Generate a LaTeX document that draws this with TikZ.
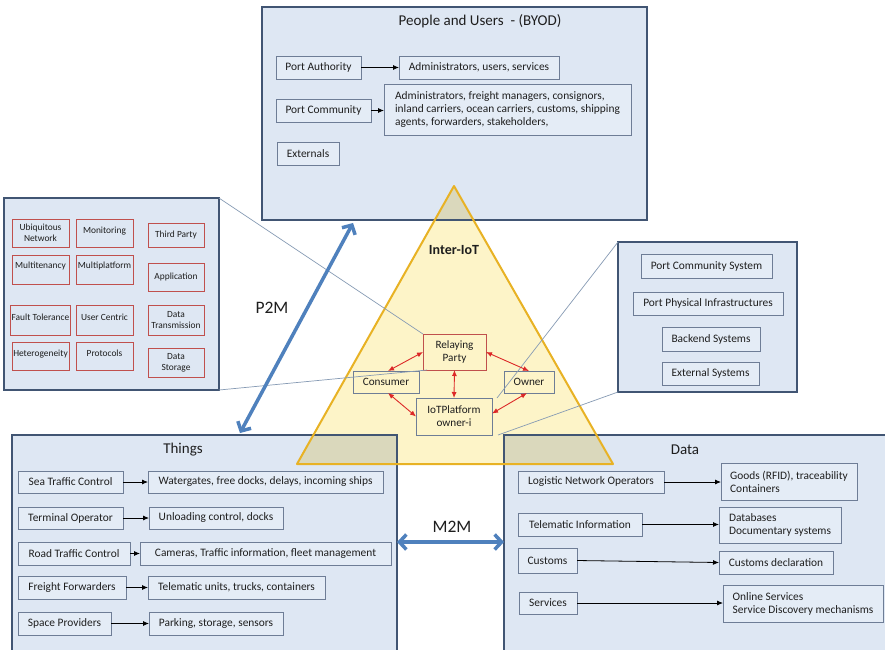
\documentclass[tikz,border=0pt]{standalone}
\usepackage{fontspec}
\setmainfont{Carlito}
\usetikzlibrary{arrows.meta,calc}
\definecolor{boxfill}{RGB}{222,231,243}
\definecolor{boxline}{RGB}{65,85,115}
\definecolor{inline}{RGB}{110,125,150}
\definecolor{infill}{RGB}{228,236,246}
\definecolor{redline}{RGB}{192,80,77}
\definecolor{tri}{RGB}{253,244,200}
\definecolor{trit}{RGB}{218,216,188}
\definecolor{triline}{RGB}{232,178,36}
\definecolor{callout}{RGB}{135,155,180}
\definecolor{bluearr}{RGB}{79,129,189}
\definecolor{redarr}{RGB}{220,40,40}
\definecolor{txt}{RGB}{30,30,30}
\tikzset{
  bigbox/.style={draw=boxline, line width=1.8pt, fill=boxfill, inner sep=0pt, outer sep=0pt},
  ibox/.style={draw=inline, line width=0.8pt, fill=infill, inner sep=2pt, outer sep=0pt, align=center, font=\fontsize{11.4}{13}\selectfont},
  iboxl/.style={ibox, align=left},
  rbox/.style={draw=redline, line width=0.9pt, inner sep=1pt, outer sep=0pt, align=center, font=\fontsize{9.4}{11}\selectfont},
  tbox/.style={draw=inline, line width=0.8pt, inner sep=1pt, outer sep=0pt, align=center, font=\fontsize{11.2}{13}\selectfont},
  arr/.style={-{Latex[length=6pt,width=5pt]}, line width=0.8pt, black},
  rarr/.style={{Latex[length=6pt,width=5pt]}-{Latex[length=6pt,width=5pt]}, line width=0.9pt, redarr},
  barr/.style={{Straight Barb[length=7pt,width=15pt]}-{Straight Barb[length=7pt,width=15pt]}, line width=3.5pt, bluearr},
  callout/.style={draw=callout, line width=0.7pt},
  title/.style={font=\fontsize{15}{17}\selectfont},
  biglabel/.style={font=\fontsize{17.5}{20}\selectfont}
}
\begin{document}
\begin{tikzpicture}[x=1pt, y=-1pt, text=txt]
\useasboundingbox (0,0) rectangle (885,649);
\fill[white] (0,0) rectangle (885,649);

% big boxes
\node[bigbox, minimum width=385pt, minimum height=213pt] (ub) at (454.5,113.5) {};
\node[bigbox, minimum width=215pt, minimum height=192pt] (lb) at (111.5,294) {};
\node[bigbox, minimum width=179pt, minimum height=150pt] (rb) at (707.5,317) {};
\node[bigbox, minimum width=385pt, minimum height=220pt] (tb) at (204.5,545) {};
\node[bigbox, minimum width=383pt, minimum height=220pt] (db) at (695.5,545) {};

% triangle
\coordinate (ta) at (454,186);
\coordinate (tl) at (297,464);
\coordinate (tr) at (613,464);
\fill[tri] (ta) -- (tl) -- (tr) -- cycle;
\begin{scope}
  \clip (ta) -- (tl) -- (tr) -- cycle;
  \fill[trit] (ub.south west) rectangle (ub.north east);
  \fill[trit] (tb.south west) rectangle (tb.north east);
  \fill[trit] (db.south west) rectangle (db.north east);
  \draw[boxline, line width=1.8pt] (ub.south west) rectangle (ub.north east);
  \draw[boxline, line width=1.8pt] (tb.south west) rectangle (tb.north east);
  \draw[boxline, line width=1.8pt] (db.south west) rectangle (db.north east);
\end{scope}
\draw[triline, line width=2pt, line join=round] (ta) -- (tl) -- (tr) -- cycle;

% People and users
\node[title] (ubt) at (480,21) {People and Users\ \ - (BYOD)};
\node[ibox, minimum width=85pt, minimum height=23pt] (pa) at (318.5,67.5) {Port Authority};
\node[ibox, minimum width=160pt, minimum height=23pt] (pas) at (479,67.5) {Administrators, users, services};
\node[ibox, minimum width=95pt, minimum height=23pt] (pc) at (323.5,110.5) {Port Community};
\node[iboxl, minimum width=247pt, minimum height=51pt] (pcs) at (507.5,109.5) {Administrators, freight managers, consignors,\\inland carriers, ocean carriers, customs, shipping\\agents, forwarders, stakeholders,};
\node[ibox, minimum width=62pt, minimum height=23pt] (ext) at (308,153.5) {Externals};
\draw[arr] (pa) -- (pas);
\draw[arr] (pc.east) -- (pc.east -| pcs.west);

% left box
\node[rbox, minimum width=57pt, minimum height=28pt] (r11) at (40.5,233) {Ubiquitous\\Network};
\node[rbox, minimum width=57pt, minimum height=28pt, text depth=5pt] (r12) at (104.5,233) {Monitoring};
\node[rbox, minimum width=56pt, minimum height=24pt] (r13) at (176,235) {Third Party};
\node[rbox, minimum width=57pt, minimum height=29pt, text depth=9pt] (r21) at (40.5,269.5) {Multitenancy};
\node[rbox, minimum width=57pt, minimum height=29pt, text depth=9pt] (r22) at (104.5,269.5) {Multiplatform};
\node[rbox, minimum width=56pt, minimum height=28pt] (r23) at (176,277) {Application};
\node[rbox, minimum width=57pt, minimum height=30pt, text depth=5pt] (r31) at (40.5,320) {Fault Tolerance};
\node[rbox, minimum width=57pt, minimum height=30pt, text depth=5pt] (r32) at (104.5,320) {User Centric};
\node[rbox, minimum width=56pt, minimum height=30pt] (r33) at (176,320) {Data\\Transmission};
\node[rbox, minimum width=57pt, minimum height=28pt, text depth=5pt] (r41) at (40.5,356) {Heterogeneity};
\node[rbox, minimum width=57pt, minimum height=28pt, text depth=5pt] (r42) at (104.5,356) {Protocols};
\node[rbox, minimum width=56pt, minimum height=29pt] (r43) at (176,362.5) {Data\\Storage};

% right box
\node[ibox, minimum width=131pt, minimum height=24pt] (pcsy) at (706.5,266) {Port Community System};
\node[ibox, minimum width=150pt, minimum height=23pt] (ppi) at (708,303.5) {Port Physical Infrastructures};
\node[ibox, minimum width=98pt, minimum height=24pt] (bes) at (711,339) {Backend Systems};
\node[ibox, minimum width=97pt, minimum height=23pt] (exs) at (710.5,373.5) {External Systems};

% Inter-IoT
\node[font=\bfseries\fontsize{14}{16}\selectfont] (iit) at (454,250) {Inter-IoT};
\node[tbox, draw=redline, minimum width=63pt, minimum height=36pt] (rp) at (454.5,352) {Relaying\\Party};
\node[tbox, minimum width=66pt, minimum height=22pt] (con) at (386,382) {Consumer};
\node[tbox, minimum width=50pt, minimum height=22pt] (own) at (529,382) {Owner};
\node[tbox, minimum width=76pt, minimum height=37pt] (iot) at (454,416.5) {IoTPlatform\\owner-i};

% callout lines
\draw[callout] (lb.north east) -- (rp.north west);
\draw[callout] (lb.south east) -- ($(rp.south west)+(4,0)$);
\draw[callout] (rb.north west) -- ($(iot.north east)+(5,0)$);
\draw[callout] (rb.south west) -- ($(iot.south east)+(6,0)$);

% red arrows
\draw[rarr] (rp.west) -- ($(con.north)+(2,0)$);
\draw[rarr] (rp.east) -- (own.north);
\draw[rarr] (rp.south) -- (iot.north);
\draw[rarr] ($(con.south)+(2,0)$) -- (iot.west);
\draw[rarr] ($(own.south)+(-2,0)$) -- ($(iot.east)+(0,-3)$);

% Things
\node[title] (tbt) at (183,450) {Things};
\node[ibox, minimum width=105pt, minimum height=22pt] (stc) at (70.5,482) {Sea Traffic Control};
\node[ibox, minimum width=235pt, minimum height=22pt] (stct) at (265.5,482) {Watergates, free docks, delays, incoming ships};
\node[ibox, minimum width=105pt, minimum height=22pt] (top) at (70.5,518) {Terminal Operator};
\node[ibox, minimum width=134pt, minimum height=22pt] (topt) at (216,518) {Unloading control,\ docks};
\node[ibox, minimum width=112pt, minimum height=23pt] (rtc) at (74,553.5) {Road Traffic Control};
\node[ibox, minimum width=251pt, minimum height=23pt] (rtct) at (265.5,553.5) {Cameras, Traffic information, fleet management};
\node[ibox, minimum width=108pt, minimum height=23pt] (ffw) at (72,587.5) {Freight Forwarders};
\node[ibox, minimum width=177pt, minimum height=23pt] (ffwt) at (236.5,587.5) {Telematic units, trucks,\ containers};
\node[ibox, minimum width=93pt, minimum height=23pt] (spp) at (64.5,623.5) {Space Providers};
\node[ibox, minimum width=134pt, minimum height=23pt] (sppt) at (216,623.5) {Parking, storage, sensors};
\draw[arr] (stc) -- (stct);
\draw[arr] (top) -- (topt);
\draw[arr] (rtc) -- (rtct);
\draw[arr] (ffw) -- (ffwt);
\draw[arr] (spp) -- (sppt);

% Data
\node[title] (dbt) at (685,450) {Data};
\node[ibox, minimum width=146pt, minimum height=22pt] (lno) at (591,482) {Logistic Network Operators};
\node[iboxl, minimum width=136pt, minimum height=37pt] (lnot) at (789,481.5) {Goods (RFID), traceability\\Containers};
\node[ibox, minimum width=124pt, minimum height=23pt] (tei) at (580,524.5) {Telematic Information};
\node[iboxl, minimum width=122pt, minimum height=36pt] (teit) at (780,525) {Databases\\Documentary systems};
\node[ibox, minimum width=59pt, minimum height=25pt] (cus) at (547.5,560.5) {Customs};
\node[ibox, minimum width=114pt, minimum height=23pt] (cust) at (776,562.5) {Customs declaration};
\node[ibox, minimum width=58pt, minimum height=22pt] (ser) at (548,603) {Services};
\node[iboxl, minimum width=160pt, minimum height=37pt] (sert) at (803,603.5) {Online Services\\Service Discovery mechanisms};
\draw[arr] (lno.east) -- (lno.east -| lnot.west);
\draw[arr] (tei.east) -- (tei.east -| teit.west);
\draw[arr] (cus.east) -- (cust.west);
\draw[arr] (ser.east) -- (ser.east -| sert.west);

% P2M and M2M
\draw[barr] ([xshift=35.5pt,yshift=2pt]tb.north) -- ([xshift=-101.5pt,yshift=-3pt]ub.south);
\node[biglabel] (p2m) at (272,308) {P2M};
\draw[barr] ([yshift=3pt]tb.east) -- ([yshift=3pt]db.west);
\node[biglabel] (m2m) at (452,527) {M2M};
\end{tikzpicture}
\end{document}
